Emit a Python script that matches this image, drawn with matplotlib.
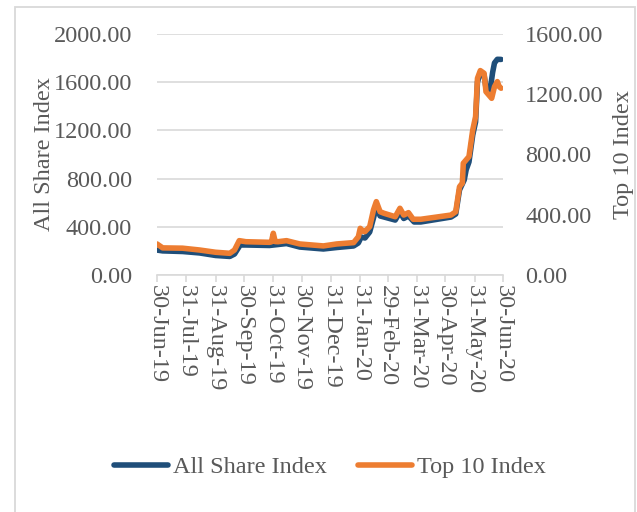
import numpy as np
import pandas as pd
import matplotlib
matplotlib.use('Agg')
import matplotlib.pyplot as plt
from matplotlib.patches import Rectangle

start = pd.Timestamp('2019-06-30')

# All Share Index (left axis): day offset from 30-Jun-19, value
asi_days = [0, 6, 27, 45, 62, 77, 82, 88, 94, 119, 137, 151, 176, 190, 208, 213, 216, 220,
            225, 229, 232, 236, 252, 257, 261, 266, 272, 279, 311, 316, 320, 325, 327, 330,
            334, 337, 339, 342, 346, 348, 351, 353, 355, 357, 360, 364]
asi_vals = [207, 200, 195, 183, 162, 154, 174, 249, 249, 245, 261, 232, 216, 228, 241, 266, 315, 307,
            357, 473, 564, 490, 456, 523, 469, 490, 440, 440, 481, 506, 706, 789, 872, 938,
            1162, 1270, 1602, 1677, 1660, 1552, 1535, 1568, 1680, 1760, 1790, 1789]

# Top 10 Index (right axis)
top_days = [0, 6, 27, 45, 62, 77, 82, 87, 94, 119, 121, 123, 125, 128, 137, 151, 176, 190, 208,
            213, 215, 218, 220, 225, 229, 232, 236, 240, 252, 257, 261, 266, 271, 279, 311, 316,
            320, 323, 324, 330, 334, 337, 339, 342, 346, 348, 351, 354, 357, 360, 362, 364]
top_vals = [206, 180, 178, 166, 151, 144, 166, 228, 221, 217, 220, 277, 222, 221, 228, 206, 193, 206, 215,
            254, 310, 290, 288, 321, 432, 487, 420, 410, 387, 443, 398, 414, 370, 370, 398, 420,
            586, 610, 742, 786, 963, 1051, 1306, 1357, 1339, 1217, 1195, 1173, 1250, 1284, 1250, 1240]

tick_labels = ['30-Jun-19', '31-Jul-19', '31-Aug-19', '30-Sep-19', '31-Oct-19', '30-Nov-19',
               '31-Dec-19', '31-Jan-20', '29-Feb-20', '31-Mar-20', '30-Apr-20', '31-May-20', '30-Jun-20']

asi_dates = start + pd.to_timedelta(asi_days, unit='D')
top_dates = start + pd.to_timedelta(top_days, unit='D')
tick_dates = pd.to_datetime(tick_labels, format='%d-%b-%y')

plt.rcParams['font.family'] = ['Liberation Serif', 'DejaVu Serif']
gray = '#595959'
blue = '#1F4E79'
orange = '#ED7D31'
fs = 17.5

fig = plt.figure(figsize=(6.37, 5.12), dpi=100)
fig.patches.append(Rectangle((15 / 637, -0.1), 620 / 637, 1.1 - 7 / 512, transform=fig.transFigure,
                             fill=False, edgecolor='#D9D9D9', linewidth=1.3))

ax = fig.add_axes([157 / 637, 1 - 275 / 512, 346 / 637, 241 / 512])
ax2 = ax.twinx()

l1, = ax.plot(asi_dates, asi_vals, color=blue, linewidth=4, solid_capstyle='round',
              solid_joinstyle='round', label='All Share Index')
l2, = ax2.plot(top_dates, top_vals, color=orange, linewidth=4, solid_capstyle='round',
               solid_joinstyle='round', label='Top 10 Index')

ax.set_xlim(tick_dates[0], tick_dates[-1])
ax.set_ylim(0, 2000)
ax.set_yticks(np.arange(0, 2001, 400))
ax.set_yticklabels([f'{v:.2f}' for v in np.arange(0, 2001, 400)])
ax2.set_ylim(0, 1600)
ax2.set_yticks(np.arange(0, 1601, 400))
ax2.set_yticklabels([f'{v:.2f}' for v in np.arange(0, 1601, 400)])

ax.set_xticks(tick_dates)
ax.set_xticklabels(tick_labels, rotation=270, ha='center', va='top')

ax.grid(axis='y', color='#D9D9D9', linewidth=1.2)
ax.set_axisbelow(True)
for a in (ax, ax2):
    for s in a.spines.values():
        s.set_visible(False)
ax.spines['bottom'].set_visible(True)
ax.spines['bottom'].set_color('#D9D9D9')
ax.spines['bottom'].set_linewidth(1.2)

ax.tick_params(axis='x', colors='#D9D9D9', labelcolor=gray, labelsize=fs, length=5, width=1.2, pad=2)
ax.tick_params(axis='y', length=0, labelcolor=gray, labelsize=fs, pad=18)
ax2.tick_params(axis='y', length=0, labelcolor=gray, labelsize=fs, pad=16)

ax.set_ylabel('All Share Index', color=gray, fontsize=fs)
ax2.set_ylabel('Top 10 Index', color=gray, fontsize=fs, rotation=90)
ax.yaxis.set_label_coords(-0.295, 0.5)
ax2.yaxis.set_label_coords(1.317, 0.5)

fig.legend(handles=[l1, l2], loc='center', bbox_to_anchor=(0.518, 1 - 467 / 512), ncol=2,
           frameon=False, fontsize=fs, labelcolor=gray, handlelength=2.2, handletextpad=0.2,
           columnspacing=1.3)

fig.savefig('out.png', dpi=100)
